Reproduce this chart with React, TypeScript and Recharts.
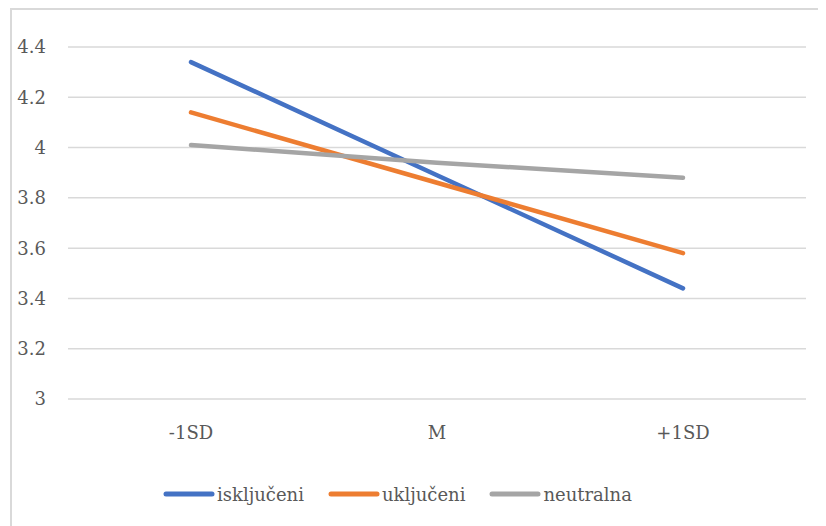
import React from "react";
import { LineChart, Line, XAxis, YAxis, CartesianGrid, Legend } from "recharts";

const categories = ["-1SD", "M", "+1SD"];
const iskljuceni = [4.34, 3.89, 3.44];
const ukljuceni = [4.14, 3.86, 3.58];
const neutralna = [4.01, 3.94, 3.88];
const yTicks = [3, 3.2, 3.4, 3.6, 3.8, 4, 4.2, 4.4];

const seriesInfo = [
  { key: "iskljuceni", name: "isključeni", color: "#4472C4" },
  { key: "ukljuceni", name: "uključeni", color: "#ED7D31" },
  { key: "neutralna", name: "neutralna", color: "#A5A5A5" },
];

const data = categories.map((c, i) => ({
  cat: c,
  iskljuceni: iskljuceni[i],
  ukljuceni: ukljuceni[i],
  neutralna: neutralna[i],
}));

const FONT = "'DejaVu Serif', serif";
const TEXT = "#595959";

const LegendContent = () => (
  <div style={{ display: "flex", alignItems: "center", paddingLeft: 155, height: 24 }}>
    {seriesInfo.map((s) => (
      <div key={s.key} style={{ display: "flex", alignItems: "center", marginRight: 24 }}>
        <svg width={52} height={10} style={{ marginRight: 2 }}>
          <line x1={3} y1={5} x2={49} y2={5} stroke={s.color} strokeWidth={5} strokeLinecap="round" />
        </svg>
        <span style={{ fontFamily: FONT, fontSize: 18, color: TEXT }}>{s.name}</span>
      </div>
    ))}
  </div>
);

export default function App() {
  return (
    <div style={{ position: "relative", width: 818, height: 518, background: "#fff" }}>
      <div
        style={{
          position: "absolute",
          left: 2,
          top: 0,
          width: 830,
          height: 530,
          borderTop: "2px solid #d9d9d9",
          borderLeft: "2px solid #d9d9d9",
          boxSizing: "border-box",
        }}
      />
      <LineChart
        width={818}
        height={518}
        data={data}
        margin={{ top: 39, right: 20, left: 0, bottom: 20 }}
        style={{ position: "absolute", left: 0, top: 0 }}
      >
        <CartesianGrid vertical={false} stroke="#d9d9d9" strokeWidth={1.5} />
        <XAxis
          dataKey="cat"
          height={83}
          axisLine={false}
          tickLine={false}
          tickSize={0}
          tickMargin={27}
          padding={{ left: 123, right: 123 }}
          tick={{ fill: TEXT, fontSize: 18, fontFamily: FONT }}
        />
        <YAxis
          width={60}
          domain={[3, 4.4]}
          ticks={yTicks}
          axisLine={false}
          tickLine={false}
          tickSize={0}
          tickMargin={22}
          tick={{ fill: TEXT, fontSize: 18, fontFamily: FONT }}
        />
        <Legend verticalAlign="bottom" height={24} content={<LegendContent />} />
        {seriesInfo.map((s) => (
          <Line
            key={s.key}
            type="linear"
            dataKey={s.key}
            name={s.name}
            stroke={s.color}
            strokeWidth={4.5}
            strokeLinecap="round"
            dot={false}
            activeDot={false}
            isAnimationActive={false}
          />
        ))}
      </LineChart>
    </div>
  );
}
